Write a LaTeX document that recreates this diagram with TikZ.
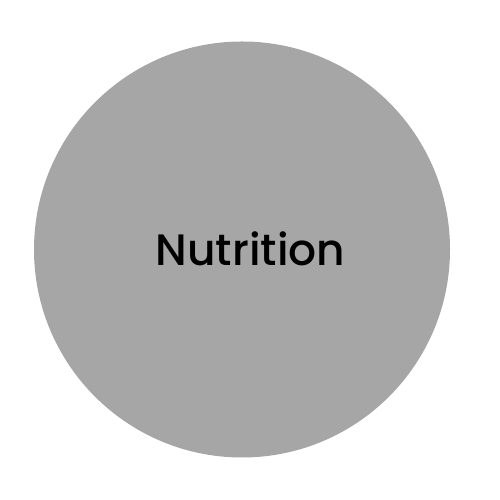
\documentclass[tikz,border=0pt]{standalone}
\usepackage{fontspec}
\setmainfont{Poppins}[UprightFont=* Medium]
\definecolor{topicgray}{HTML}{A6A6A6}
\begin{document}
\begin{tikzpicture}[
   topic/.style={circle, fill=topicgray, minimum size=8.32cm, inner sep=0pt},
   label/.style={font=\fontsize{25}{30}\selectfont, text=black, anchor=base}
]
\useasboundingbox (0,0) rectangle (10,10);

% Circle
\node[topic] (circ) at (4.84,5.01) {};

% Label
\node[label] (nutr) at (5.01,4.68) {Nutrition};

\end{tikzpicture}
\end{document}
